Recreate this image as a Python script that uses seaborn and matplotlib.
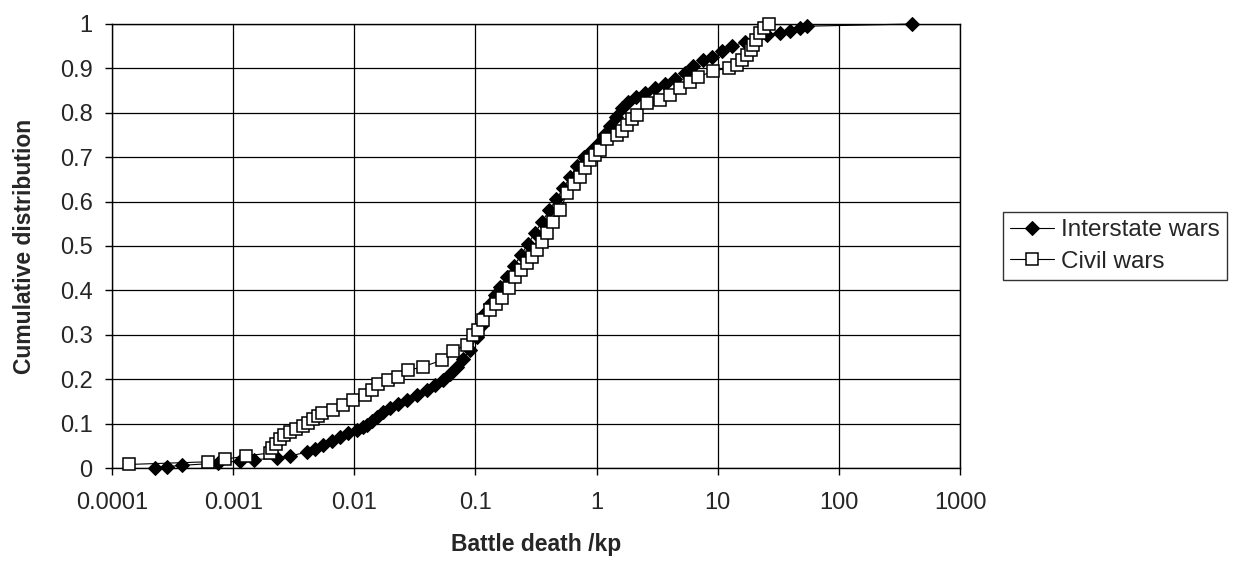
import numpy as np
import pandas as pd
import matplotlib
matplotlib.use("Agg")
import matplotlib.pyplot as plt
import seaborn as sns
from matplotlib.ticker import FixedLocator, FixedFormatter, NullLocator

# Values (battle deaths per kp vs cumulative share)
interstate_x = [0.000226, 0.000284, 0.000378, 0.00075, 0.00114, 0.00149, 0.00231, 0.00295,
                0.00407, 0.00474, 0.0055, 0.0066, 0.0076, 0.0089, 0.0105, 0.0118, 0.0128,
                0.014, 0.0154, 0.0173, 0.0198, 0.023, 0.0273, 0.033, 0.04, 0.0465, 0.054,
                0.0618, 0.0706, 0.079, 0.0904, 0.103, 0.111, 0.12, 0.132, 0.146, 0.16,
                0.183, 0.209, 0.238, 0.272, 0.311, 0.356, 0.406, 0.464, 0.53, 0.605, 0.692,
                0.79, 0.902, 1.03, 1.156, 1.295, 1.45, 1.627, 1.82, 2.12, 2.52, 3.05, 3.68,
                4.46, 5.39, 6.28, 7.59, 9.0, 10.9, 13.2, 16.9, 21.2, 25.6, 32.8, 39.7, 48.0,
                54.8, 404.0]
interstate_y = [0.0, 0.003, 0.006, 0.011, 0.016, 0.019, 0.022, 0.027,
                0.036, 0.043, 0.052, 0.06, 0.07, 0.078, 0.085, 0.092, 0.097,
                0.105, 0.115, 0.125, 0.135, 0.145, 0.153, 0.165, 0.176, 0.187, 0.198,
                0.212, 0.228, 0.245, 0.266, 0.295, 0.32, 0.35, 0.37, 0.39, 0.408,
                0.43, 0.455, 0.48, 0.505, 0.53, 0.555, 0.58, 0.605, 0.63, 0.655, 0.68,
                0.70, 0.715, 0.73, 0.75, 0.77, 0.79, 0.81, 0.825, 0.835, 0.845, 0.855, 0.865,
                0.875, 0.89, 0.905, 0.92, 0.925, 0.94, 0.95, 0.96, 0.97, 0.975, 0.98, 0.985, 0.99,
                0.995, 1.0]

civil_x = [0.000138, 0.00062, 0.00086, 0.00128, 0.00202, 0.00209, 0.00226, 0.00244, 0.00263,
           0.00295, 0.0033, 0.0038, 0.00415, 0.0046, 0.00502, 0.0054, 0.0067, 0.0081, 0.0098,
           0.0123, 0.014, 0.0157, 0.019, 0.023, 0.0278, 0.037, 0.053, 0.065, 0.085, 0.096,
           0.105, 0.116, 0.132, 0.148, 0.166, 0.19, 0.213, 0.238, 0.267, 0.294, 0.324, 0.356,
           0.391, 0.439, 0.5, 0.571, 0.653, 0.733, 0.805, 0.885, 0.972, 1.07, 1.22, 1.48, 1.63,
           1.79, 1.97, 2.16, 2.62, 3.35, 4.05, 4.9, 5.93, 6.9, 9.2, 12.5, 14.5, 15.9, 17.5,
           18.8, 19.6, 20.8, 22.4, 24.2, 26.3]
civil_y = [0.008, 0.014, 0.02, 0.027, 0.034, 0.045, 0.055, 0.065, 0.075,
           0.082, 0.088, 0.095, 0.102, 0.11, 0.117, 0.124, 0.13, 0.142, 0.153,
           0.164, 0.175, 0.19, 0.198, 0.205, 0.22, 0.228, 0.243, 0.264, 0.277, 0.30,
           0.31, 0.333, 0.356, 0.37, 0.383, 0.405, 0.43, 0.445, 0.462, 0.475, 0.49, 0.51,
           0.53, 0.555, 0.58, 0.62, 0.64, 0.655, 0.675, 0.694, 0.705, 0.716, 0.74, 0.75, 0.76,
           0.772, 0.785, 0.795, 0.822, 0.829, 0.84, 0.856, 0.87, 0.88, 0.895, 0.90, 0.908, 0.918, 0.93,
           0.942, 0.953, 0.965, 0.98, 0.99, 1.0]

x_ticks = [0.0001, 0.001, 0.01, 0.1, 1, 10, 100, 1000]
x_tick_labels = ["0.0001", "0.001", "0.01", "0.1", "1", "10", "100", "1000"]
y_ticks = [0, 0.1, 0.2, 0.3, 0.4, 0.5, 0.6, 0.7, 0.8, 0.9, 1]
y_tick_labels = ["0", "0.1", "0.2", "0.3", "0.4", "0.5", "0.6", "0.7", "0.8", "0.9", "1"]

sns.set_style("white")
plt.rcParams["font.family"] = ["Liberation Sans", "DejaVu Sans"]

fig = plt.figure(figsize=(12.46, 5.67), dpi=100)
ax = fig.add_axes([0.0899, 0.1746, 0.6806, 0.7831])

inter_df = pd.DataFrame({"x": interstate_x, "y": interstate_y})
civil_df = pd.DataFrame({"x": civil_x, "y": civil_y})

sns.lineplot(data=inter_df, x="x", y="y", ax=ax, sort=False, estimator=None,
             color="black", linewidth=0.8, marker="D", markersize=7,
             markerfacecolor="black", markeredgecolor="black",
             label="Interstate wars", zorder=3, clip_on=False)
sns.lineplot(data=civil_df, x="x", y="y", ax=ax, sort=False, estimator=None,
             color="black", linewidth=0.8, marker="s", markersize=8,
             markerfacecolor="white", markeredgecolor="black", markeredgewidth=1.1,
             label="Civil wars", zorder=4, clip_on=False)

ax.set_xscale("log")
ax.set_xlim(0.0001, 1000)
ax.set_ylim(0, 1)
ax.xaxis.set_major_locator(FixedLocator(x_ticks))
ax.xaxis.set_major_formatter(FixedFormatter(x_tick_labels))
ax.xaxis.set_minor_locator(NullLocator())
ax.set_yticks(y_ticks)
ax.set_yticklabels(y_tick_labels)

ax.grid(True, which="major", color="black", linewidth=0.9)
ax.set_axisbelow(True)
for s in ax.spines.values():
    s.set_color("black")
    s.set_linewidth(1.0)

ax.tick_params(axis="both", which="major", labelsize=17, length=5, width=1,
               color="black", direction="out", left=True, bottom=True)
ax.tick_params(axis="x", pad=12)
ax.tick_params(axis="y", pad=9)
ax.set_xlabel("Battle death /kp", fontsize=16.5, fontweight="bold", labelpad=14)
ax.set_ylabel("Cumulative distribution", fontsize=16.5, fontweight="bold", labelpad=17)

leg = ax.legend(loc="center left", bbox_to_anchor=(1003 / 1246, 1 - 246 / 567),
                bbox_transform=fig.transFigure, frameon=True,
                fontsize=17.5, handlelength=1.8, handletextpad=0.3,
                borderpad=0.3, labelspacing=0.4, fancybox=False, borderaxespad=0)
leg.get_frame().set_edgecolor("black")
leg.get_frame().set_linewidth(1.0)

fig.savefig("out.png", dpi=100)
